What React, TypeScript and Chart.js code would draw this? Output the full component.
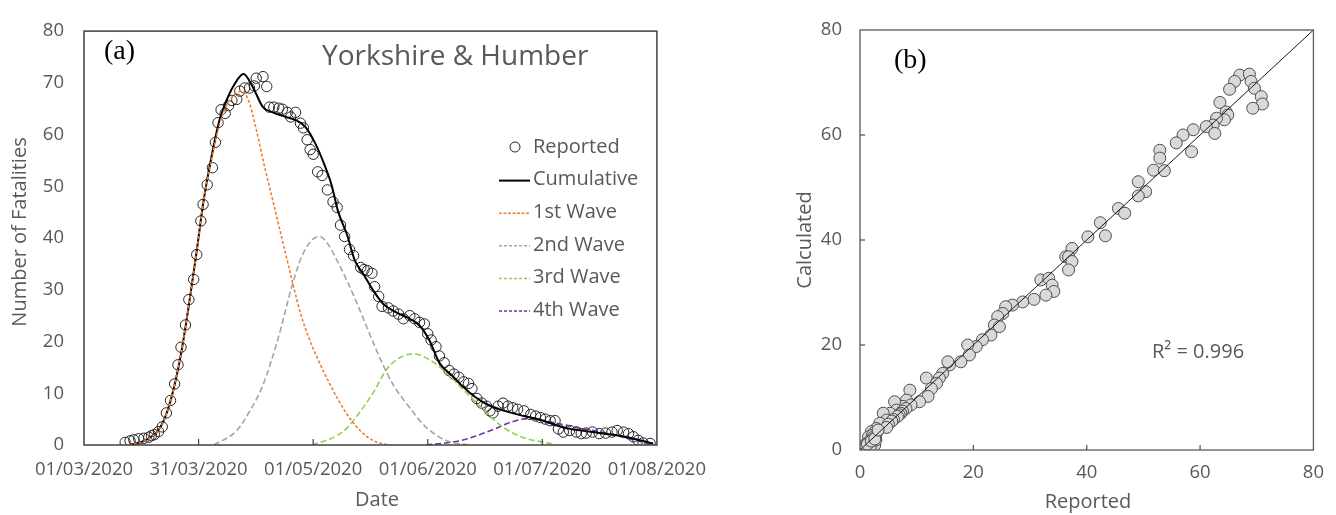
import React, { useEffect, useRef } from 'react';
import { Chart, registerables } from 'chart.js';

Chart.register(...registerables);

// ---------- Panel (a) data ----------
const xTickDays = [0, 30.6, 61.2, 91.8, 122.4, 153];
const xTickLabels = ['01/03/2020', '31/03/2020', '01/05/2020', '01/06/2020', '01/07/2020', '01/08/2020'];

const reportedDays = [11, 12.3, 13.3, 14.6, 16, 17.3, 18, 18.8, 19.9, 20.9, 22, 23.1, 24.2, 25.1, 25.9, 27.1, 28, 29.3, 30.1, 31.2, 31.8, 32.9, 34.3, 35.1, 35.8, 36.6, 37.7, 38.6, 39.5, 40.8, 41.6, 42.9, 44.2, 45.5, 46, 47.8, 48.8, 49.5, 50.7, 52, 53, 54.3, 55.2, 56.5, 57.8, 58.6, 59.6, 60.4, 61.2, 62.4, 63.6, 65, 66.5, 67.6, 68.5, 69.6, 70.9, 72, 73.9, 74.8, 75.7, 76.9, 77.6, 78.7, 79.6, 81.3, 82.6, 84, 85.3, 87, 88.3, 89.6, 90.9, 91.8, 92.7, 94, 94.9, 96.2, 97.5, 98.8, 100.1, 101.4, 102.7, 103.6, 104.9, 106.2, 107.5, 108.4, 109.2, 110.6, 111.9, 113.2, 114.5, 115.8, 117.5, 119.3, 120.6, 121.9, 123.2, 124.5, 125.8, 126.7, 128, 129.7, 131.5, 132.8, 134.1, 135.8, 137.6, 139.3, 141, 142.4, 144.1, 145.4, 146.7, 148, 149.3, 151.2];
const reportedVals = [0.5, 0.8, 1.0, 1.2, 1.3, 1.5, 1.8, 2.0, 2.6, 3.5, 6.2, 8.6, 11.8, 15.5, 18.9, 23.2, 28.1, 32, 36.8, 43.3, 46.5, 50.3, 53.6, 58.5, 62.3, 64.8, 64.1, 65.6, 66.6, 66.8, 68.4, 69, 69, 69.4, 70.9, 71.2, 69.3, 65.3, 65.3, 65.1, 64.9, 64.3, 63.4, 64.3, 62.2, 61.3, 59, 57.1, 56.2, 52.8, 52.1, 49.3, 47, 45.9, 42.5, 40.3, 37.8, 36.6, 34.3, 33.9, 33.7, 33.2, 30.6, 28.7, 26.8, 26.5, 25.9, 25.3, 24.4, 25, 24.4, 23.7, 23.4, 21.5, 20.3, 19, 17.2, 15.9, 14.4, 13.7, 13.1, 12.2, 11.9, 10.9, 9.0, 8.1, 7.5, 6.6, 6.2, 7.5, 8.1, 7.5, 7.2, 6.9, 6.6, 5.9, 5.6, 5.3, 5, 4.7, 4.7, 3.1, 2.5, 2.8, 2.5, 2.2, 2.3, 2.5, 2.2, 2.3, 2.5, 2.8, 2.5, 2.2, 1.6, 0.9, 0.4, 0.3];

const cumulativeDays = [12, 16, 20, 22, 24, 26, 28, 30, 32, 34, 36, 38, 40, 42.6, 45.2, 47.8, 50.4, 53.9, 56.5, 59.1, 61.7, 64.3, 66.1, 67.8, 70.4, 72.2, 74.8, 77.4, 80, 83.5, 87, 89.6, 92.2, 94.9, 98.3, 102.7, 107, 112.3, 117.5, 122.7, 128, 135.8, 144.5, 152];
const cumulativeVals = [0, 0.8, 3, 6, 11, 18, 27, 37, 47.5, 55.5, 62.3, 66.5, 69.5, 71.7, 69.0, 65.3, 64.3, 63.4, 62.8, 61.5, 58.4, 54, 50.3, 45.3, 40.3, 35.9, 32.8, 29.7, 27.2, 25.6, 24.4, 23.1, 20.3, 15.9, 13.4, 10.3, 8.1, 6.6, 5.6, 4.7, 3.4, 2.5, 1.6, 0.3];

const wave1Days = [12, 16, 20, 22, 24, 26, 28, 30, 32, 34, 36, 38, 40, 42, 44, 46, 48, 50, 52, 54, 56, 58, 60, 62, 64, 66, 68, 70, 72, 74, 76, 78, 80, 82];
const wave1Vals = [0, 0.8, 3, 6, 11, 18, 27, 37, 47.5, 55, 61.5, 65.5, 67.6, 68.4, 66.5, 61, 54.5, 48.5, 42.5, 36.5, 30.5, 25, 20.8, 17.3, 14.2, 11.3, 8.6, 6.2, 4.2, 2.6, 1.4, 0.6, 0.2, 0];

const wave2Days = [34.7, 40.8, 44.3, 47.8, 52, 55.6, 58.2, 61, 63, 65, 67, 70.4, 73, 76.6, 79.2, 82.6, 87, 91.4, 96.6, 102.7];
const wave2Vals = [0, 2.8, 6.6, 11.6, 21, 30.9, 36.5, 39.7, 40.3, 39, 36.5, 31.5, 27.2, 20.9, 16.5, 11.6, 7.2, 3.4, 0.9, 0];

const wave3Days = [60.9, 67, 70.4, 73.9, 77.4, 80.9, 84.4, 88.3, 92.2, 96.6, 101, 105.3, 109.7, 114, 118.4, 124.5, 126];
const wave3Vals = [0, 1.6, 3.4, 6.6, 10.3, 14.7, 16.9, 17.6, 16.5, 14.1, 10.9, 7.8, 4.7, 2.5, 1.2, 0.3, 0];

const wave4Days = [91.4, 96.6, 101, 105.3, 109.7, 114, 118.5, 122.7, 131.5, 140.2, 148.9, 152.5];
const wave4Vals = [0, 0.4, 0.9, 1.9, 3.1, 4.4, 5.1, 4.7, 3.4, 2.2, 0.6, 0];

const legendLabels = ['Reported', 'Cumulative', '1st Wave', '2nd Wave', '3rd Wave', '4th Wave'];

// ---------- Panel (b) data ----------
const scatterReported = [67.0, 68.7, 66.1, 65.2, 69.0, 69.6, 70.8, 71.0, 69.3, 63.5, 64.6, 64.9, 64.3, 62.9, 62.3, 61.1, 62.6, 58.8, 57.0, 55.8, 58.5, 52.9, 52.9, 51.8, 53.7, 49.1, 50.4, 49.1, 45.6, 46.7, 42.4, 43.3, 40.2, 37.4, 36.3, 36.8, 37.4, 36.8, 31.9, 33.3, 33.9, 34.2, 32.8, 30.7, 28.7, 26.9, 25.7, 25.2, 24.3, 23.7, 24.6, 23.1, 21.6, 20.5, 19.0, 19.3, 17.8, 15.8, 15.5, 14.6, 14.0, 11.7, 13.5, 12.6, 12.0, 10.5, 8.8, 8.2, 7.6, 6.1, 6.4, 5.3, 4.1, 4.7, 3.5, 2.9, 2.0, 1.5, 2.6, 1.8, 0.6, 0.2, 9.0, 8.1, 7.5, 7.2, 6.9, 6.6, 5.9, 5.6, 5.0, 4.7, 3.1, 2.5, 2.8, 2.2, 2.3, 2.5, 2.8, 1.6, 0.9, 0.4, 1.0, 1.3, 2.0, 2.6, 3.2];
const scatterCalculated = [71.4, 71.6, 70.2, 68.7, 70.2, 68.9, 67.3, 65.9, 65.1, 66.2, 64.4, 63.8, 62.9, 63.2, 61.9, 61.6, 60.3, 61.0, 60.0, 58.5, 56.8, 57.1, 55.6, 53.3, 53.2, 51.1, 49.2, 48.4, 46.0, 45.1, 43.3, 40.8, 40.6, 38.4, 36.8, 36.8, 35.9, 34.3, 32.4, 32.7, 31.4, 30.2, 29.5, 28.7, 28.2, 27.6, 27.3, 26.0, 25.4, 23.8, 23.5, 21.9, 21.0, 19.7, 20.0, 18.1, 16.8, 16.2, 16.8, 14.6, 13.7, 13.7, 12.7, 11.7, 10.2, 9.2, 11.4, 9.5, 8.3, 9.2, 7.6, 7.0, 7.0, 5.7, 5.1, 4.1, 3.5, 2.5, 0.95, 0.6, 0.1, 0.2, 8.6, 7.9, 7.4, 7.0, 6.7, 6.4, 5.8, 5.5, 4.9, 4.3, 3.6, 3.3, 3.0, 2.8, 2.4, 2.2, 1.9, 1.6, 1.0, 0.5, 0.8, 1.1, 1.7, 2.1, 3.8];
const fitLineX = [0, 80];
const fitLineY = [0, 80];
const rSquaredLabel = 'R² = 0.996';

const FONT = '"Open Sans", "Noto Sans", sans-serif';
const TEXT = '#595959';
const TICK_SIZE = 18.5;

const pts = (xs: number[], ys: number[]) => xs.map((x, i) => ({ x, y: ys[i] }));

function hLine(ctx: CanvasRenderingContext2D, x1: number, y1: number, x2: number, y2: number) {
  ctx.beginPath();
  ctx.moveTo(x1, y1);
  ctx.lineTo(x2, y2);
  ctx.stroke();
}

const waveStyle = (color: string, dash: number[]) => ({
  showLine: true,
  borderColor: color,
  borderWidth: 1.6,
  borderDash: dash,
  pointRadius: 0,
  cubicInterpolationMode: 'monotone' as const,
  fill: false,
});

function makeConfigA(): any {
  const legendPlugin = {
    id: 'panelA',
    afterDraw(chart: any) {
      const { ctx, chartArea: a, scales } = chart;
      ctx.save();
      ctx.strokeStyle = '#404040';
      ctx.lineWidth = 1.5;
      ctx.setLineDash([]);
      ctx.strokeRect(a.left, a.top, a.right - a.left, a.bottom - a.top);
      ctx.lineWidth = 1.2;
      xTickDays.slice(1, -1).forEach((d) => {
        const x = scales.x.getPixelForValue(d);
        hLine(ctx, x, a.bottom, x, a.bottom - 6);
      });

      // (a)
      ctx.fillStyle = '#000';
      ctx.font = '28px "Liberation Serif", "DejaVu Serif", serif';
      ctx.textBaseline = 'middle';
      ctx.textAlign = 'left';
      ctx.fillText('(a)', 104, 52);

      // Title
      ctx.fillStyle = TEXT;
      ctx.font = `28px ${FONT}`;
      ctx.fillText('Yorkshire & Humber', 322, 57);

      // Legend
      ctx.font = `20px ${FONT}`;
      const colors = ['#262626', '#000000', '#ED7D31', '#A5A5A5', '#92D050', '#7030A0'];
      const dashes = [[], [], [3, 1.5], [3, 2], [3, 2], [3, 2]];
      legendLabels.forEach((lab, i) => {
        const y = 147 + i * 32.6;
        ctx.setLineDash([]);
        if (i === 0) {
          ctx.strokeStyle = '#262626';
          ctx.lineWidth = 1;
          ctx.beginPath();
          ctx.arc(515, y, 5, 0, Math.PI * 2);
          ctx.stroke();
        } else {
          ctx.strokeStyle = colors[i];
          ctx.lineWidth = i === 1 ? 2 : 1.5;
          ctx.setLineDash(dashes[i]);
          hLine(ctx, 499, y + 1, 530, y + 1);
        }
        ctx.setLineDash([]);
        ctx.fillStyle = TEXT;
        ctx.fillText(lab, 533, y);
      });

      // Axis titles
      ctx.font = `20px ${FONT}`;
      ctx.fillStyle = TEXT;
      ctx.textAlign = 'center';
      ctx.fillText('Date', 377, 500);
      ctx.save();
      ctx.translate(20, 232);
      ctx.rotate(-Math.PI / 2);
      ctx.fillText('Number of Fatalities', 0, 0);
      ctx.restore();
      ctx.restore();
    },
  };

  return {
    type: 'scatter',
    data: {
      datasets: [
        { label: '1st Wave', data: pts(wave1Days, wave1Vals), ...waveStyle('#ED7D31', [3, 2]) },
        {
          label: 'Cumulative',
          data: pts(cumulativeDays, cumulativeVals),
          showLine: true,
          borderColor: '#000',
          borderWidth: 2,
          pointRadius: 0,
          cubicInterpolationMode: 'monotone',
        },
        { label: '2nd Wave', data: pts(wave2Days, wave2Vals), ...waveStyle('#A5A5A5', [6, 3]) },
        { label: '3rd Wave', data: pts(wave3Days, wave3Vals), ...waveStyle('#92D050', [6, 3]) },
        { label: '4th Wave', data: pts(wave4Days, wave4Vals), ...waveStyle('#7030A0', [6, 3]) },
        {
          label: 'Reported',
          data: pts(reportedDays, reportedVals),
          showLine: false,
          pointRadius: 5.2,
          pointBorderWidth: 1,
          pointBorderColor: '#262626',
          pointBackgroundColor: 'rgba(255,255,255,0)',
        },
      ],
    },
    options: {
      responsive: false,
      devicePixelRatio: 1,
      animation: false,
      layout: { padding: { left: 0, top: 18, right: 51, bottom: 0 } },
      plugins: { legend: { display: false }, tooltip: { enabled: false } },
      scales: {
        x: {
          type: 'linear',
          min: 0,
          max: 153,
          afterBuildTicks: (s: any) => {
            s.ticks = xTickDays.map((v) => ({ value: v }));
          },
          afterFit: (s: any) => {
            s.height = 70;
          },
          grid: { display: false, drawTicks: false },
          border: { display: false },
          ticks: {
            autoSkip: false,
            maxRotation: 0,
            minRotation: 0,
            padding: 14,
            color: TEXT,
            font: { family: FONT, size: TICK_SIZE },
            callback: (_v: any, i: number) => xTickLabels[i],
          },
        },
        y: {
          type: 'linear',
          min: 0,
          max: 80,
          afterFit: (s: any) => {
            s.width = 84;
          },
          grid: { display: false, drawTicks: false },
          border: { display: false },
          ticks: { stepSize: 10, padding: 20, color: TEXT, font: { family: FONT, size: TICK_SIZE } },
        },
      },
    },
    plugins: [legendPlugin],
  };
}

function makeConfigB(): any {
  const OFF = 700;
  const plugin = {
    id: 'panelB',
    afterDraw(chart: any) {
      const { ctx, chartArea: a, scales } = chart;
      ctx.save();
      ctx.strokeStyle = '#595959';
      ctx.lineWidth = 1.3;
      ctx.strokeRect(a.left, a.top, a.right - a.left, a.bottom - a.top);
      [20, 40, 60].forEach((v) => {
        const x = scales.x.getPixelForValue(v);
        hLine(ctx, x, a.bottom, x, a.bottom - 5);
        const y = scales.y.getPixelForValue(v);
        hLine(ctx, a.left, y, a.left + 5, y);
      });
      ctx.fillStyle = '#000';
      ctx.font = '28px "Liberation Serif", "DejaVu Serif", serif';
      ctx.textBaseline = 'middle';
      ctx.textAlign = 'left';
      ctx.fillText('(b)', 894 - OFF, 61);

      ctx.fillStyle = TEXT;
      ctx.font = `20px ${FONT}`;
      ctx.fillText(rSquaredLabel, 1152 - OFF, 352);

      ctx.textAlign = 'center';
      ctx.fillText('Reported', 1088 - OFF, 502);
      ctx.save();
      ctx.translate(805 - OFF, 240);
      ctx.rotate(-Math.PI / 2);
      ctx.fillText('Calculated', 0, 0);
      ctx.restore();
      ctx.restore();
    },
  };

  return {
    type: 'scatter',
    data: {
      datasets: [
        {
          label: 'fit',
          data: pts(fitLineX, fitLineY),
          showLine: true,
          borderColor: '#1a1a1a',
          borderWidth: 1,
          pointRadius: 0,
        },
        {
          label: 'points',
          data: pts(scatterReported, scatterCalculated),
          pointRadius: 6,
          pointBorderWidth: 1,
          pointBorderColor: '#4d4d4d',
          pointBackgroundColor: '#D9D9D9',
        },
      ],
    },
    options: {
      responsive: false,
      devicePixelRatio: 1,
      animation: false,
      layout: { padding: { left: 0, top: 30, right: 20, bottom: 0 } },
      plugins: { legend: { display: false }, tooltip: { enabled: false } },
      scales: {
        x: {
          type: 'linear',
          min: 0,
          max: 80,
          afterFit: (s: any) => {
            s.height = 65;
          },
          grid: { display: false, drawTicks: false },
          border: { display: false },
          ticks: { stepSize: 20, padding: 12, maxRotation: 0, color: TEXT, font: { family: FONT, size: TICK_SIZE } },
        },
        y: {
          type: 'linear',
          min: 0,
          max: 80,
          afterFit: (s: any) => {
            s.width = 160;
          },
          grid: { display: false, drawTicks: false },
          border: { display: false },
          ticks: { stepSize: 20, padding: 18, color: TEXT, font: { family: FONT, size: TICK_SIZE } },
        },
      },
    },
    plugins: [plugin],
  };
}

export default function App() {
  const refA = useRef<HTMLCanvasElement>(null);
  const refB = useRef<HTMLCanvasElement>(null);
  useEffect(() => {
    const a = new Chart(refA.current as HTMLCanvasElement, makeConfigA());
    const b = new Chart(refB.current as HTMLCanvasElement, makeConfigB());
    return () => {
      a.destroy();
      b.destroy();
    };
  }, []);
  return (
    <div style={{ position: 'fixed', left: 0, top: 0, width: 1336, height: 515, background: '#fff' }}>
      <canvas ref={refA} width={720} height={515} style={{ position: 'absolute', left: 0, top: 0, width: 720, height: 515 }} />
      <canvas ref={refB} width={636} height={515} style={{ position: 'absolute', left: 700, top: 0, width: 636, height: 515 }} />
    </div>
  );
}
